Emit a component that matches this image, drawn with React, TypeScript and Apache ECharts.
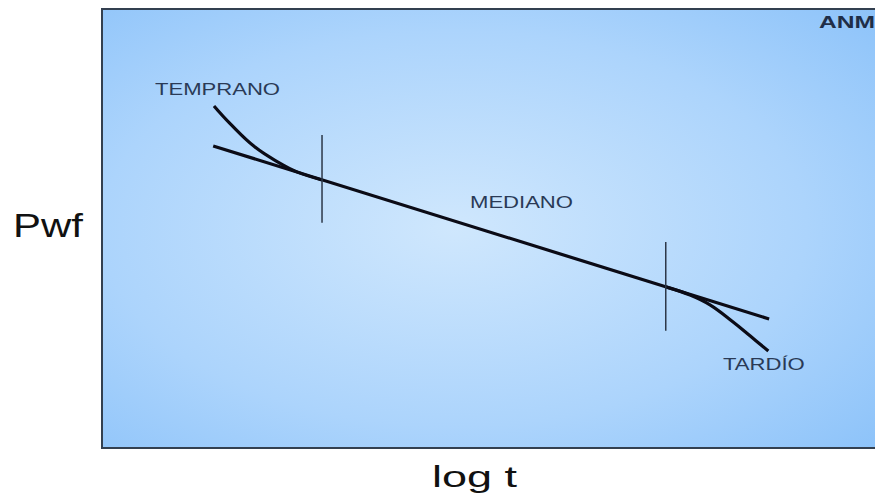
import React, { useEffect, useRef } from "react";
import * as echarts from "echarts";

// Straight semilog line (log t vs Pwf), arbitrary units 0..100
const lineLogT = [14.2, 85.2];
const linePwf = [68.8, 29.4];

// Early-time departure (TEMPRANO)
const earlyLogT = [14.3, 16.3, 19.5, 22.7, 24.9, 28.1];
const earlyPwf = [77.9, 74.0, 68.6, 64.9, 62.9, 61.05];

// Late-time departure (TARDÍO)
const lateLogT = [72.0, 75.1, 77.65, 80.6, 82.8, 85.1];
const latePwf = [36.7, 34.85, 32.6, 28.7, 25.5, 22.1];

// Vertical boundaries between regions
const markerLogT = [28.1, 72.0];
const markerTop = [71.3, 46.9];
const markerBottom = [51.3, 26.7];

const labels = ["TEMPRANO", "MEDIANO", "TARDÍO", "ANM"];
const yTitle = "Pwf";
const xTitle = "log t";

const FONT = "'Liberation Sans', Arial, Helvetica, sans-serif";

export default function App() {
  const ref = useRef<HTMLDivElement>(null);
  useEffect(() => {
    if (!ref.current) return;
    const chart = echarts.init(ref.current, undefined, { renderer: "svg" });
    const zip = (xs: number[], ys: number[]) => xs.map((x, i) => [x, ys[i]]);
    const curveStyle = { color: "#0b0b16", width: 3.2 };
    const markerSeries = markerLogT.map((x, i) => ({
      type: "line",
      data: [
        [x, markerTop[i]],
        [x, markerBottom[i]],
      ],
      showSymbol: false,
      symbol: "none",
      lineStyle: { color: "#2c3748", width: 1.5 },
      silent: true,
    }));
    const labelStyle = (size: number, weight: any, color: string) => ({
      fontSize: size,
      fontFamily: FONT,
      fontWeight: weight,
      fill: color,
      textAlign: "left",
      textVerticalAlign: "middle",
    });
    chart.setOption({
      animation: false,
      grid: {
        left: 102,
        top: 9,
        width: 783,
        height: 439,
        outerBoundsMode: "none",
        containLabel: false,
        show: true,
        borderColor: "#334050",
        borderWidth: 2,
        backgroundColor: new echarts.graphic.RadialGradient(0.45, 0.5, 0.9, [
          { offset: 0, color: "#cfe7fd" },
          { offset: 0.5, color: "#acd4fc" },
          { offset: 1, color: "#7bb9f8" },
        ]),
      },
      xAxis: { type: "value", min: 0, max: 100, show: false },
      yAxis: { type: "value", min: 0, max: 100, show: false },
      series: [
        {
          type: "line",
          data: zip(lineLogT, linePwf),
          showSymbol: false,
          symbol: "none",
          lineStyle: curveStyle,
        },
        {
          type: "line",
          data: zip(earlyLogT, earlyPwf),
          smooth: 0.4,
          showSymbol: false,
          symbol: "none",
          lineStyle: curveStyle,
        },
        {
          type: "line",
          data: zip(lateLogT, latePwf),
          smooth: 0.4,
          showSymbol: false,
          symbol: "none",
          lineStyle: curveStyle,
        },
        ...markerSeries,
      ],
      graphic: [
        { type: "text", x: 155, y: 90, scaleX: 1.38, style: { text: labels[0], ...labelStyle(16, "normal", "#2a3a56") } },
        { type: "text", x: 470, y: 203, scaleX: 1.38, style: { text: labels[1], ...labelStyle(16, "normal", "#2a3a56") } },
        { type: "text", x: 723, y: 365, scaleX: 1.38, style: { text: labels[2], ...labelStyle(16, "normal", "#2a3a56") } },
        { type: "text", x: 819, y: 22, scaleX: 1.45, style: { text: labels[3], ...labelStyle(17, "bold", "#1f2e48") } },
        { type: "text", x: 13, y: 226, scaleX: 1.27, style: { text: yTitle, ...labelStyle(33, "normal", "#111111") } },
        { type: "text", x: 432, y: 476, scaleX: 1.5, style: { text: xTitle, ...labelStyle(30, "normal", "#111111") } },
      ],
    });
    return () => chart.dispose();
  }, []);
  return (
    <div
      ref={ref}
      style={{ position: "fixed", left: 0, top: 0, width: 875, height: 498, background: "#ffffff" }}
    />
  );
}
